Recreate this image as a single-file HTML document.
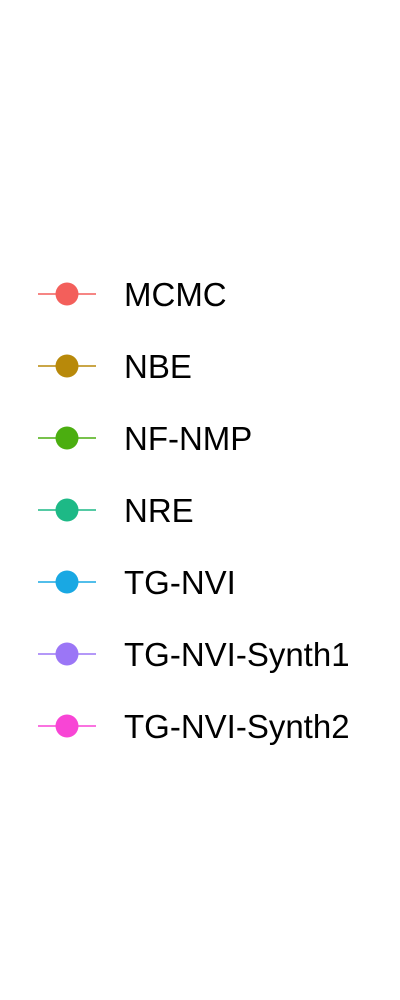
<!DOCTYPE html>
<html><head><meta charset="utf-8"><style>
html,body{margin:0;padding:0;background:#fff;}
svg{display:block;}
</style></head><body>
<svg id="legend" width="400" height="1000" xmlns="http://www.w3.org/2000/svg"></svg>
<script>
const categories = ["MCMC","NBE","NF-NMP","NRE","TG-NVI","TG-NVI-Synth1","TG-NVI-Synth2"];
const colors = ["#F35F5B","#B8890A","#4BAE10","#1DB986","#19A8E3","#9B76F6","#F845D5"];
const svg = document.getElementById('legend');
const NS = "http://www.w3.org/2000/svg";
const y0 = 294, dy = 72;
categories.forEach((c,i)=>{
  const y = y0 + i*dy;
  const g = document.createElementNS(NS,'g');
  
  
  const ln = document.createElementNS(NS,'line');
  ln.setAttribute('x1',38); ln.setAttribute('x2',96);
  ln.setAttribute('y1',y); ln.setAttribute('y2',y);
  ln.setAttribute('stroke',colors[i]); ln.setAttribute('stroke-width',1.6);
  
  
  const ci = document.createElementNS(NS,'circle');
  ci.setAttribute('cx',67); ci.setAttribute('cy',y); ci.setAttribute('r',11.5);
  ci.setAttribute('fill',colors[i]);
  
  
  const t = document.createElementNS(NS,'text');
  t.setAttribute('x',124); t.setAttribute('y',y+12);
  t.setAttribute('font-family','"Liberation Sans", Arial, sans-serif');
  t.setAttribute('font-size',33);
  t.setAttribute('fill','#000');
  t.textContent = c;
  
  
  g.appendChild(ln); g.appendChild(ci); g.appendChild(t);
  svg.appendChild(g);
});
</script>
</body></html>
